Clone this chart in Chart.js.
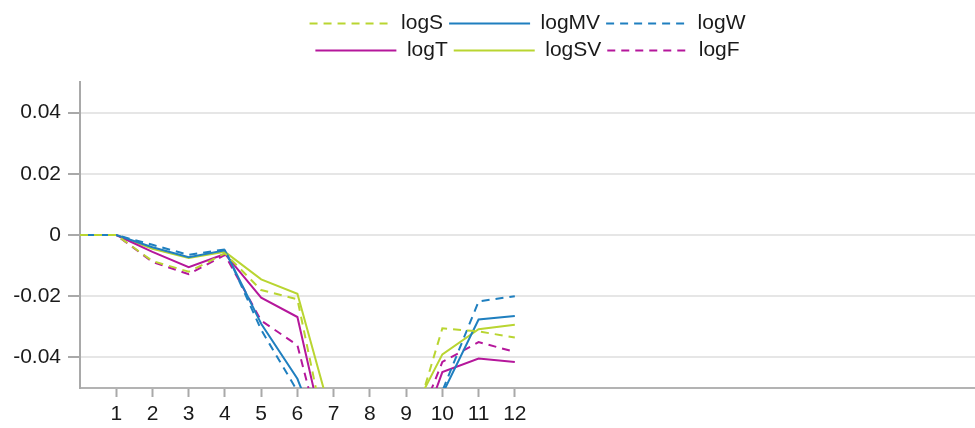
<!DOCTYPE html>
<html>
<head>
<meta charset="utf-8">
<script src="https://cdn.jsdelivr.net/npm/chart.js@4"></script>
<style>
  body { margin: 0; background: #fff; }
  #wrap { width: 975px; height: 428px; position: relative; }
</style>
</head>
<body>
<div id="wrap"><canvas id="chart"></canvas></div>
<script>
var steps = [0, 1, 2, 3, 4, 5, 6, 7, 8, 9, 10, 11, 12];
var xTicks = [1, 2, 3, 4, 5, 6, 7, 8, 9, 10, 11, 12];
var yTicks = [-0.04, -0.02, 0, 0.02, 0.04];

var logS  = [0, 0, -0.0085, -0.012, -0.006, -0.018, -0.021, -0.078, -0.09, -0.07, -0.0305, -0.0315, -0.0335];
var logMV = [0, 0, -0.004, -0.0073, -0.005, -0.029, -0.047, -0.077, -0.09, -0.085, -0.052, -0.0276, -0.0265];
var logW  = [0, 0, -0.0032, -0.0065, -0.0047, -0.031, -0.051, -0.08, -0.09, -0.085, -0.051, -0.0217, -0.020];
var logT  = [0, 0, -0.0055, -0.0105, -0.0062, -0.0205, -0.0268, -0.079, -0.09, -0.0775, -0.0448, -0.0404, -0.0415];
var logSV = [0, 0, -0.0045, -0.0075, -0.0055, -0.0145, -0.0192, -0.062, -0.085, -0.062, -0.039, -0.0308, -0.0293];
var logF  = [0, 0, -0.0088, -0.0128, -0.0065, -0.028, -0.036, -0.082, -0.09, -0.071, -0.0415, -0.035, -0.0382];

var green = '#b9d531';
var blue = '#1f7fbf';
var magenta = '#b5179b';

function pts(vals) {
    return vals.map(function (v, i) { return { x: steps[i], y: v }; });
}

function line(label, vals, color, dashed) {
    return {
        label: label,
        data: pts(vals),
        borderColor: color,
        backgroundColor: color,
        borderWidth: 2,
        borderDash: dashed ? [8, 6] : [],
        pointRadius: 0,
        pointStyle: 'line',
        tension: 0
    };
}

// legend in 3 columns, centred over the plot, with room reserved above the plot
var legendRows = {
    id: 'legendRows',
    beforeLayout: function (chart) {
        var lg = chart.legend;
        if (!lg || lg._squeezed) return;
        var orig = lg.update;
        lg.update = function (w, h, m) {
            orig.call(this, Math.min(w, 480), h, m);
            this.height = 75;
        };
        lg._squeezed = true;
    },
    afterLayout: function (chart) {
        var lg = chart.legend;
        var c = (chart.chartArea.left + chart.chartArea.right) / 2;
        lg.left = c - 245;
        lg.right = c + 245;
        lg.width = 490;
    }
};

Chart.defaults.font.family = "'Liberation Sans', Arial, sans-serif";
Chart.defaults.font.size = 21;
Chart.defaults.color = '#1a1a1a';

new Chart(document.getElementById('chart').getContext('2d'), {
    type: 'line',
    data: {
        datasets: [
            line('logS', logS, green, true),
            line('logMV', logMV, blue, false),
            line('logW', logW, blue, true),
            line('logT', logT, magenta, false),
            line('logSV', logSV, green, false),
            line('logF', logF, magenta, true)
        ]
    },
    options: {
        responsive: true,
        maintainAspectRatio: false,
        animation: false,
        layout: { padding: { top: 7, left: 0, right: 0, bottom: 0 } },
        plugins: {
            tooltip: { enabled: false },
            legend: {
                position: 'top',
                fullSize: false,
                labels: {
                    usePointStyle: true,
                    pointStyleWidth: 81,
                    boxHeight: 21,
                    padding: 6,
                    font: { size: 21 },
                    color: '#1a1a1a',
                    generateLabels: function (chart) {
                        var items = Chart.defaults.plugins.legend.labels.generateLabels(chart);
                        items.forEach(function (it) {
                            var ds = chart.data.datasets[it.datasetIndex];
                            it.lineDash = ds.borderDash;
                            it.strokeStyle = ds.borderColor;
                            it.lineWidth = 2;
                        });
                        return items;
                    }
                }
            }
        },
        scales: {
            x: {
                type: 'linear',
                min: 0,
                max: 24.7,
                afterBuildTicks: function (s) {
                    s.ticks = xTicks.map(function (v) { return { value: v }; });
                },
                afterFit: function (s) { s.height = 40; },
                grid: {
                    drawOnChartArea: false,
                    tickLength: 9,
                    tickColor: '#a9a9a9',
                    tickWidth: 2
                },
                border: { color: '#b3b3b3', width: 2 },
                ticks: {
                    padding: 5,
                    maxRotation: 0,
                    autoSkip: false,
                    callback: function (v) { return String(v); }
                }
            },
            y: {
                min: -0.05,
                max: 0.05,
                afterBuildTicks: function (s) {
                    s.ticks = yTicks.map(function (v) { return { value: v }; });
                },
                afterFit: function (s) { s.width = 80; },
                grid: {
                    color: '#e6e6e6',
                    lineWidth: 2,
                    tickLength: 12,
                    tickColor: '#a9a9a9',
                    tickWidth: 2
                },
                border: { color: '#a9a9a9', width: 2 },
                ticks: {
                    padding: 7,
                    callback: function (v) { return v === 0 ? '0' : v.toFixed(2); }
                }
            }
        }
    },
    plugins: [legendRows]
});
</script>
</body>
</html>
